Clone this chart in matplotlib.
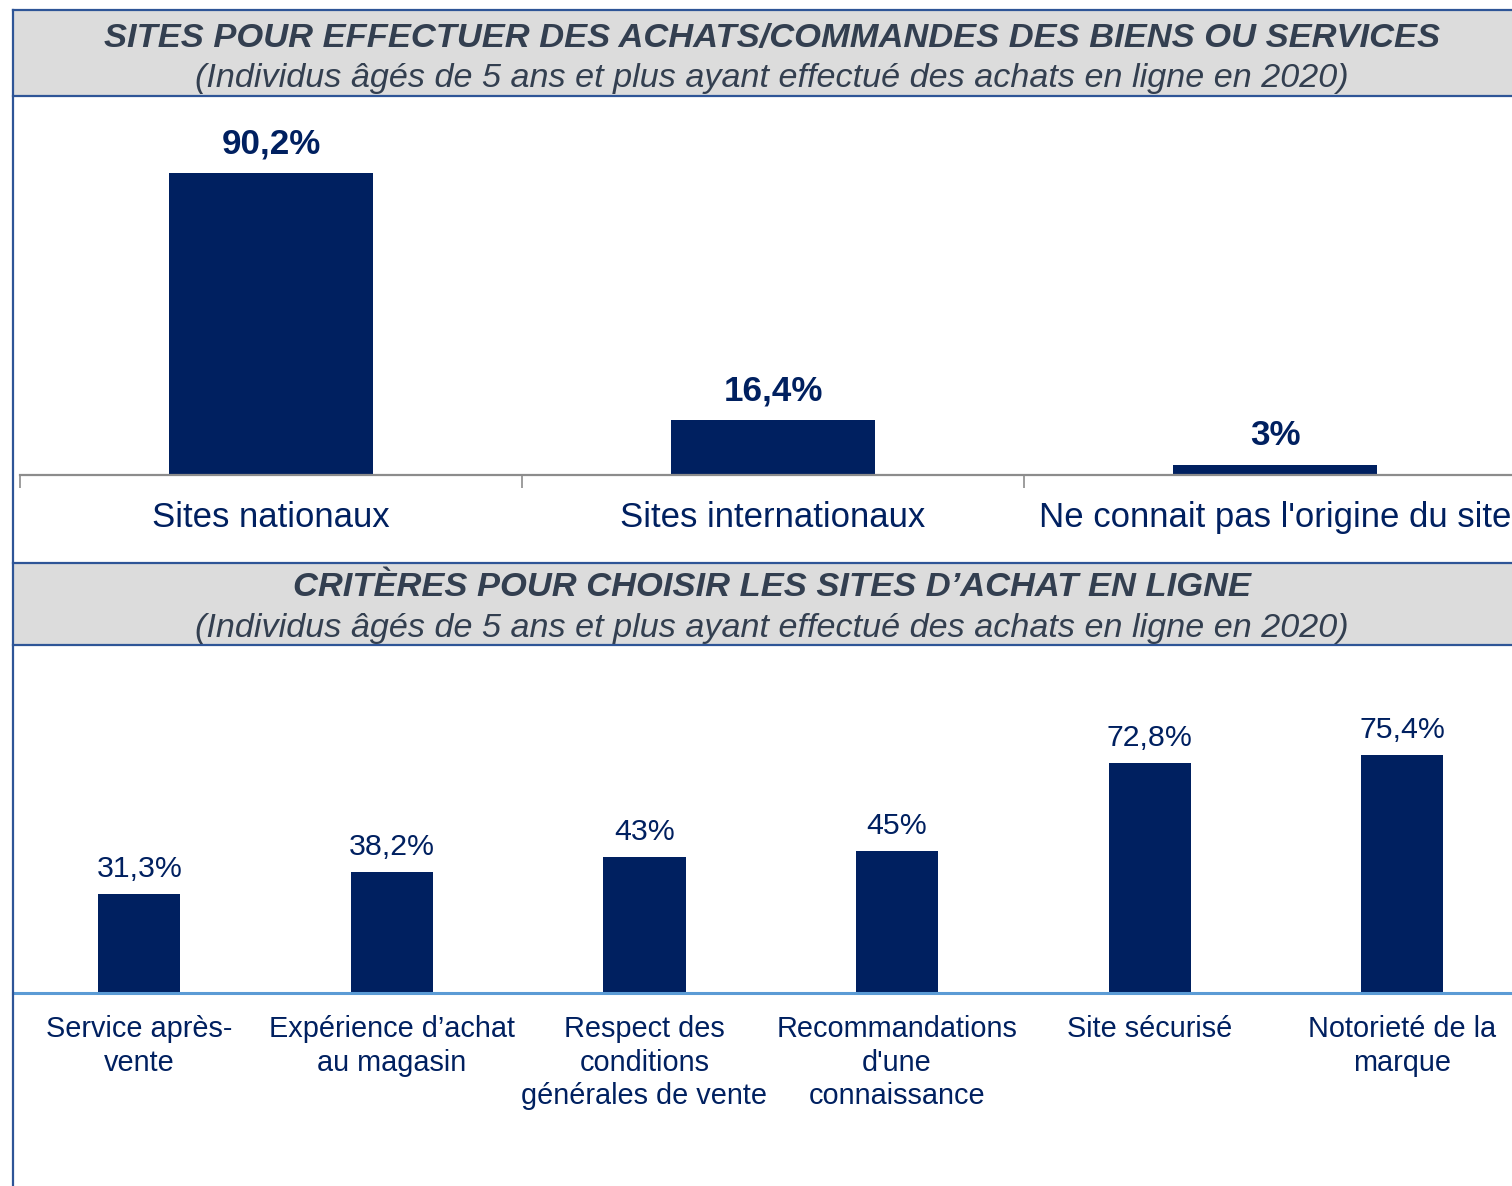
import matplotlib.pyplot as plt
from matplotlib.patches import Rectangle
from matplotlib.lines import Line2D

plt.rcParams['font.family'] = ['Liberation Sans', 'DejaVu Sans']

# data
sites = ["Sites nationaux", "Sites internationaux", "Ne connait pas l'origine du site"]
sites_pct = [90.2, 16.4, 3.0]
sites_lbl = ["90,2%", "16,4%", "3%"]

criteres = ["Service après-\nvente", "Expérience d\u2019achat\nau magasin",
            "Respect des\nconditions\ngénérales de vente",
            "Recommandations\nd'une\nconnaissance", "Site sécurisé",
            "Notorieté de la\nmarque"]
criteres_pct = [31.3, 38.2, 43.0, 45.0, 72.8, 75.4]
criteres_lbl = ["31,3%", "38,2%", "43%", "45%", "72,8%", "75,4%"]

W, H = 1512, 1186
NAVY = '#002060'
TITLE = '#333f50'
BORDER = '#2e5597'

fig = plt.figure(figsize=(W / 100, H / 100), dpi=100)


def px(x0, y0, x1, y1):
    # pixel box (top-left origin) -> figure fraction rect
    return [x0 / W, 1 - y1 / H, (x1 - x0) / W, (y1 - y0) / H]


# title bands
for y0, y1, ty, sy, title, sub in [
    (10, 96, 38, 78, "SITES POUR EFFECTUER DES ACHATS/COMMANDES DES BIENS OU SERVICES",
     "(Individus âgés de 5 ans et plus ayant effectué des achats en ligne en 2020)"),
    (563, 645, 588, 629, "CRITÈRES POUR CHOISIR LES SITES D\u2019ACHAT EN LIGNE",
     "(Individus âgés de 5 ans et plus ayant effectué des achats en ligne en 2020)"),
]:
    fig.patches.append(Rectangle((13 / W, 1 - y1 / H), 1, (y1 - y0) / H,
                                 transform=fig.transFigure, facecolor='#dcdcdc',
                                 edgecolor='none', zorder=0))
    for y in (y0, y1):
        fig.lines.append(Line2D([13 / W, 1], [1 - y / H] * 2, transform=fig.transFigure,
                                color=BORDER, lw=1.6))
    fig.text(772 / W, 1 - ty / H, title, ha='center', va='center',
             fontsize=24.8, fontweight='bold', fontstyle='italic', color=TITLE)
    fig.text(772 / W, 1 - sy / H, sub, ha='center', va='center',
             fontsize=24.6, fontstyle='italic', color=TITLE)

fig.lines.append(Line2D([13 / W] * 2, [0, 1 - 10 / H], transform=fig.transFigure,
                        color=BORDER, lw=1.6))

# top chart
ax1 = fig.add_axes(px(20, 140, 20 + 3 * 502, 475))
x1 = range(len(sites))
bars1 = ax1.bar(x1, sites_pct, width=0.405, color=NAVY)
ax1.bar_label(bars1, labels=sites_lbl, padding=9, fontsize=25.2, fontweight='bold', color=NAVY)
ax1.set_xlim(-0.5, 2.5)
ax1.set_ylim(0, 100)
ax1.set_xticks(list(x1))
ax1.set_xticklabels(sites, fontsize=25, color=NAVY)
ax1.tick_params(axis='x', which='major', length=0, pad=19)
ax1.set_xticks([-0.5, 0.5, 1.5, 2.5], minor=True)
ax1.tick_params(axis='x', which='minor', length=9, width=1.2, color='#8c8c8c')
ax1.set_yticks([])
for s in ('top', 'left', 'right'):
    ax1.spines[s].set_visible(False)
ax1.spines['bottom'].set_color('#8c8c8c')
ax1.spines['bottom'].set_linewidth(1.6)
ax1.patch.set_alpha(0)

# bottom chart
ax2 = fig.add_axes(px(13, 677, 13 + 6 * 252.6, 993))
x2 = range(len(criteres))
bars2 = ax2.bar(x2, criteres_pct, width=0.325, color=NAVY)
ax2.bar_label(bars2, labels=criteres_lbl, padding=8, fontsize=21.8, color=NAVY)
ax2.set_xlim(-0.5, 5.5)
ax2.set_ylim(0, 100)
ax2.set_xticks(list(x2))
ax2.set_xticklabels(criteres, fontsize=20.8, color=NAVY, linespacing=1.24, va='top')
ax2.tick_params(axis='x', length=0, pad=16)
ax2.set_yticks([])
for s in ('top', 'left', 'right'):
    ax2.spines[s].set_visible(False)
ax2.spines['bottom'].set_color('#5b9bd5')
ax2.spines['bottom'].set_linewidth(2.2)
ax2.patch.set_alpha(0)

fig.savefig('out.png', dpi=100)
